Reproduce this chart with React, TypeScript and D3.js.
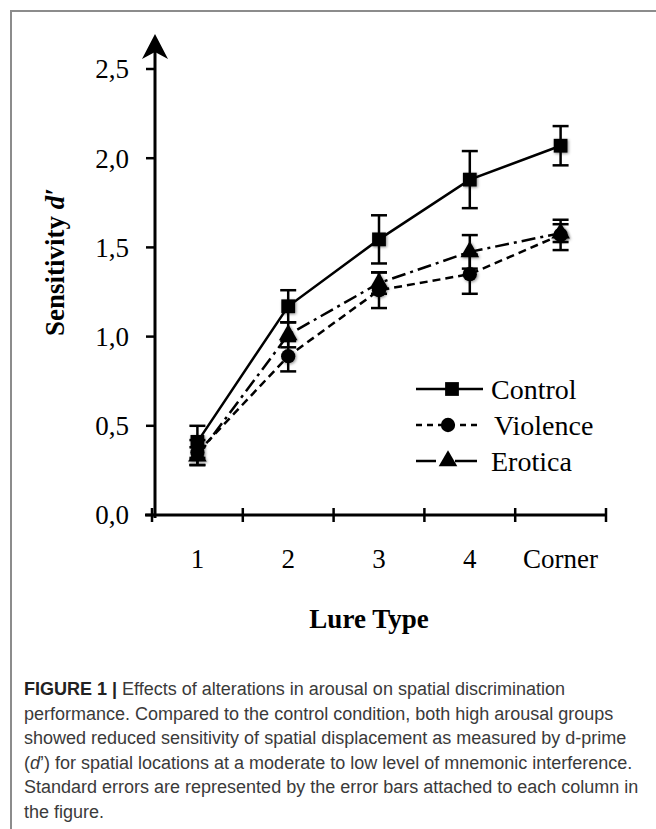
import React from 'react';
import * as d3 from 'd3';

const categories = ['1', '2', '3', '4', 'Corner'];
const yTicks = [0, 0.5, 1, 1.5, 2, 2.5];

const controlMean = [0.41, 1.17, 1.545, 1.88, 2.07];
const controlSe = [0.09, 0.09, 0.135, 0.16, 0.11];
const violenceMean = [0.35, 0.89, 1.26, 1.35, 1.57];
const violenceSe = [0.07, 0.085, 0.1, 0.11, 0.085];
const eroticaMean = [0.33, 1.01, 1.3, 1.475, 1.58];
const eroticaSe = [0.05, 0.07, 0.06, 0.094, 0.05];

const series = [
  { name: 'Control', mean: controlMean, se: controlSe, dash: 'none', symbol: d3.symbolSquare },
  { name: 'Violence', mean: violenceMean, se: violenceSe, dash: '8,5', symbol: d3.symbolCircle },
  { name: 'Erotica', mean: eroticaMean, se: eroticaSe, dash: '14,5,3,5', symbol: d3.symbolTriangle },
];

const captionLines = [
  'performance. Compared to the control condition, both high arousal groups',
  'showed reduced sensitivity of spatial displacement as measured by d-prime',
];

const W = 656;
const H = 829;
const serif = '"Liberation Serif", "Times New Roman", serif';
const sans = '"Liberation Sans", Arial, sans-serif';

export default function App() {
  const x = d3.scaleBand().domain(categories).range([152, 606]).padding(0);
  const y = d3.scaleLinear().domain([0, 2.5]).range([515, 69]);
  const cx = (i: number) => (x(categories[i]) as number) + x.bandwidth() / 2;

  const line = d3.line<number>().x((_, i) => cx(i)).y(d => y(d));

  const symSize = (s: any) => (s === d3.symbolSquare ? 190 : s === d3.symbolCircle ? 160 : 150);
  const symPath = (s: any) => d3.symbol().type(s).size(symSize(s))() as string;

  const legendY = [389, 425, 461];
  const capY = (i: number) => 695 + i * 24.5;

  return (
    <div style={{ position: 'absolute', left: 0, top: 0 }}>
      <svg width={W} height={H} style={{ display: 'block', background: '#fff' }}>
        <defs>
          <filter id="shadow" x="-50%" y="-50%" width="200%" height="200%">
            <feDropShadow dx="1" dy="1" stdDeviation="1.5" floodColor="#000" floodOpacity="0.45" />
          </filter>
        </defs>

        {/* frame */}
        <path d={`M11,${H} L11,11 L${W},11`} fill="none" stroke="#8c8c8c" strokeWidth={2} />

        {/* y axis */}
        <line x1={155} x2={155} y1={518} y2={48} stroke="#000" strokeWidth={3} />
        <path d="M155,34 L168,59 L155,52 L142,59 Z" fill="#000" />
        {yTicks.map(t => (
          <g key={t}>
            <line x1={146} x2={155} y1={y(t)} y2={y(t)} stroke="#000" strokeWidth={2.5} />
            <text x={129} y={y(t)} dy="0.35em" textAnchor="end" fontFamily={serif} fontSize={27}>
              {d3.format('.1f')(t).replace('.', ',')}
            </text>
          </g>
        ))}

        {/* x axis */}
        <line x1={145} x2={607} y1={y(0)} y2={y(0)} stroke="#000" strokeWidth={3} />
        {[...categories.map(c => x(c) as number), 606].map((v, i) => (
          <line key={i} x1={v} x2={v} y1={y(0) - 7} y2={y(0) + 7} stroke="#000" strokeWidth={2.5} />
        ))}
        {categories.map((c, i) => (
          <text key={c} x={cx(i)} y={568} textAnchor="middle" fontFamily={serif} fontSize={27}>
            {c}
          </text>
        ))}

        {/* axis titles */}
        <text x={369} y={628} textAnchor="middle" fontFamily={serif} fontSize={27} fontWeight="bold">
          Lure Type
        </text>
        <text transform="translate(64,262) rotate(-90)" textAnchor="middle" fontFamily={serif} fontSize={27} fontWeight="bold">
          Sensitivity <tspan fontStyle="italic">d′</tspan>
        </text>

        {/* series */}
        {series.map(s => (
          <g key={s.name}>
            <path d={line(s.mean) as string} fill="none" stroke="#000" strokeWidth={2.5} strokeDasharray={s.dash} />
            {s.mean.map((m, i) => (
              <g key={i} stroke="#000" strokeWidth={2.5}>
                <line x1={cx(i)} x2={cx(i)} y1={y(m - s.se[i])} y2={y(m + s.se[i])} />
                <line x1={cx(i) - 8} x2={cx(i) + 8} y1={y(m + s.se[i])} y2={y(m + s.se[i])} />
                <line x1={cx(i) - 8} x2={cx(i) + 8} y1={y(m - s.se[i])} y2={y(m - s.se[i])} />
              </g>
            ))}
            {s.mean.map((m, i) => (
              <path key={'m' + i} d={symPath(s.symbol)} transform={`translate(${cx(i)},${y(m)})`} fill="#000" filter="url(#shadow)" />
            ))}
          </g>
        ))}

        {/* legend */}
        <g>
          <line x1={416} x2={483} y1={legendY[0]} y2={legendY[0]} stroke="#000" strokeWidth={2.5} />
          <path d={symPath(d3.symbolSquare)} transform={`translate(452,${legendY[0]})`} fill="#000" />
          <text x={491} y={legendY[0] + 10} fontFamily={serif} fontSize={28}>Control</text>

          <line x1={416} x2={481} y1={legendY[1]} y2={legendY[1]} stroke="#000" strokeWidth={2.5} strokeDasharray="6,5" />
          <path d={symPath(d3.symbolCircle)} transform={`translate(448,${legendY[1]})`} fill="#000" />
          <text x={494} y={legendY[1] + 10} fontFamily={serif} fontSize={28}>Violence</text>

          <line x1={416} x2={436} y1={legendY[2]} y2={legendY[2]} stroke="#000" strokeWidth={2.5} />
          <line x1={455} x2={477} y1={legendY[2]} y2={legendY[2]} stroke="#000" strokeWidth={2.5} />
          <path d={symPath(d3.symbolTriangle)} transform={`translate(448,${legendY[2]})`} fill="#000" />
          <text x={491} y={legendY[2] + 10} fontFamily={serif} fontSize={28}>Erotica</text>
        </g>

        {/* caption */}
        <g fontFamily={sans} fontSize={18} fill="#3a3a3a">
          <text x={24} y={capY(0)}>
            <tspan fontWeight="bold" fill="#222">FIGURE 1 | </tspan>Effects of alterations in arousal on spatial discrimination
          </text>
          {captionLines.map((t, i) => (
            <text key={i} x={24} y={capY(i + 1)}>{t}</text>
          ))}
          <text x={24} y={capY(3)}>
            (<tspan fontStyle="italic">d</tspan>’) for spatial locations at a moderate to low level of mnemonic interference.
          </text>
          <text x={24} y={capY(4)}>Standard errors are represented by the error bars attached to each column in</text>
          <text x={24} y={capY(5)}>the figure.</text>
        </g>
      </svg>
    </div>
  );
}
